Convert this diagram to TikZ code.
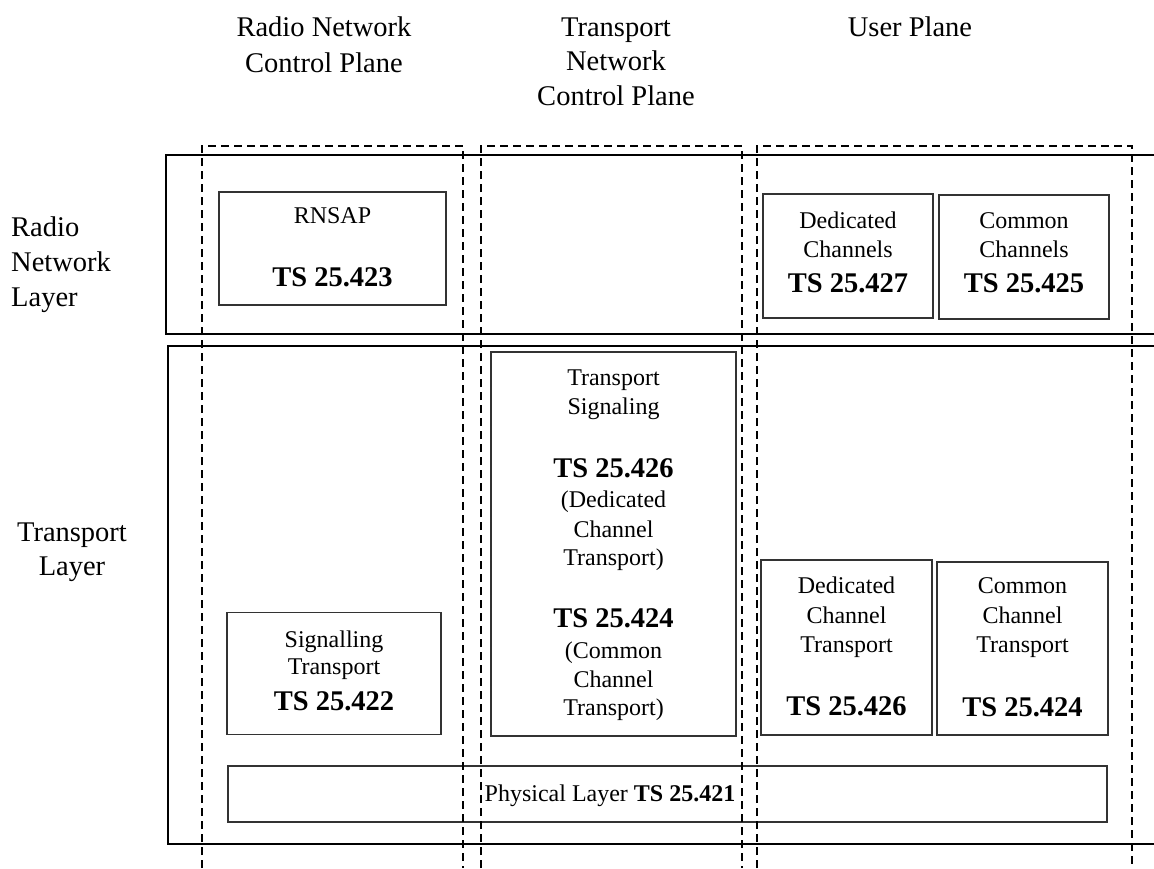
\documentclass[tikz,border=0pt]{standalone}
\usepackage{fontspec}
\setmainfont{Liberation Serif}
\begin{document}
\begin{tikzpicture}[x=1pt,y=-1pt,
  layerbox/.style={draw=black, line width=2.2pt, inner sep=0pt, outer sep=0pt},
  specbox/.style={draw=black!80, line width=1.5pt, inner sep=0pt, outer sep=0pt},
  plane/.style={draw=black, line width=1.8pt, dash pattern=on 8pt off 5pt},
  txt/.style={inner sep=0pt, anchor=base, font=\fontsize{24}{28}\selectfont},
  hdr/.style={inner sep=0pt, anchor=base, font=\fontsize{28.5}{34}\selectfont},
  ts/.style={inner sep=0pt, anchor=base, font=\bfseries\fontsize{28.5}{34}\selectfont}]
\useasboundingbox (0,0) rectangle (1154,868);

% headers
\node[hdr] (h1a) at (324,36) {Radio Network};
\node[hdr] (h1b) at (324,72) {Control Plane};
\node[hdr] (h2a) at (616,36) {Transport};
\node[hdr] (h2b) at (616,70) {Network};
\node[hdr] (h2c) at (616,105) {Control Plane};
\node[hdr] (h3a) at (910,36) {User Plane};

% left labels
\node[hdr, anchor=base west] (l1a) at (11,236) {Radio};
\node[hdr, anchor=base west] (l1b) at (11,271) {Network};
\node[hdr, anchor=base west] (l1c) at (11,306) {Layer};
\node[hdr] (l2a) at (72,541) {Transport};
\node[hdr] (l2b) at (72,575) {Layer};

% layer boxes
\node[layerbox, minimum width=1004pt, minimum height=179pt] (rnl) at (668,244.5) {};
\node[layerbox, minimum width=1002pt, minimum height=498pt] (tl) at (669,595) {};

% RNSAP
\node[specbox, minimum width=227pt, minimum height=113pt] (rnsap) at (332.5,248.5) {};
\node[txt] (rnsapt) at (332.5,223) {RNSAP};
\node[ts] (rnsapn) at (332.5,286) {TS 25.423};

% Dedicated / Common Channels
\node[specbox, minimum width=170pt, minimum height=124pt] (dch) at (848,256) {};
\node[txt] (dcha) at (848,228) {Dedicated};
\node[txt] (dchb) at (848,257) {Channels};
\node[ts] (dchn) at (848,292) {TS 25.427};
\node[specbox, minimum width=170pt, minimum height=124pt] (cch) at (1024,257) {};
\node[txt] (ccha) at (1024,228) {Common};
\node[txt] (cchb) at (1024,257) {Channels};
\node[ts] (cchn) at (1024,292) {TS 25.425};

% Transport signaling
\node[specbox, minimum width=245pt, minimum height=384pt] (tsig) at (613.5,544) {};
\node[txt] (tsa) at (613.5,385) {Transport};
\node[txt] (tsb) at (613.5,414) {Signaling};
\node[ts] (tsn1) at (613.5,477) {TS 25.426};
\node[txt] (tsc) at (613.5,507) {(Dedicated};
\node[txt] (tsd) at (613.5,537) {Channel};
\node[txt] (tse) at (613.5,565) {Transport)};
\node[ts] (tsn2) at (613.5,627) {TS 25.424};
\node[txt] (tsf) at (613.5,658) {(Common};
\node[txt] (tsg) at (613.5,687) {Channel};
\node[txt] (tsh) at (613.5,715) {Transport)};

% Signalling transport
\node[specbox, minimum width=214pt, minimum height=122pt] (sigt) at (334,673.5) {};
\node[txt] (sigta) at (334,647) {Signalling};
\node[txt] (sigtb) at (334,674) {Transport};
\node[ts] (sigtn) at (334,710) {TS 25.422};

% Dedicated / Common channel transport
\node[specbox, minimum width=171pt, minimum height=175pt] (dct) at (846.5,647.5) {};
\node[txt] (dcta) at (846.5,593) {Dedicated};
\node[txt] (dctb) at (846.5,623) {Channel};
\node[txt] (dctc) at (846.5,652) {Transport};
\node[ts] (dctn) at (846.5,715) {TS 25.426};
\node[specbox, minimum width=171pt, minimum height=173pt] (cct) at (1022.5,648.5) {};
\node[txt] (ccta) at (1022.5,593) {Common};
\node[txt] (cctb) at (1022.5,623) {Channel};
\node[txt] (cctc) at (1022.5,652) {Transport};
\node[ts] (cctn) at (1022.5,716) {TS 25.424};

% Physical layer
\node[specbox, minimum width=879pt, minimum height=56pt] (phy) at (667.5,794) {};
\node[txt] (phyt) at (610,801) {Physical Layer \textbf{TS 25.421}};

% planes (dashed, open at the bottom)
\draw[plane] (202,868) -- (202,146) -- (463,146) -- (463,868);
\draw[plane] (481,868) -- (481,146) -- (742,146) -- (742,868);
\draw[plane] (757,868) -- (757,146) -- (1132,146) -- (1132,868);
\end{tikzpicture}
\end{document}
